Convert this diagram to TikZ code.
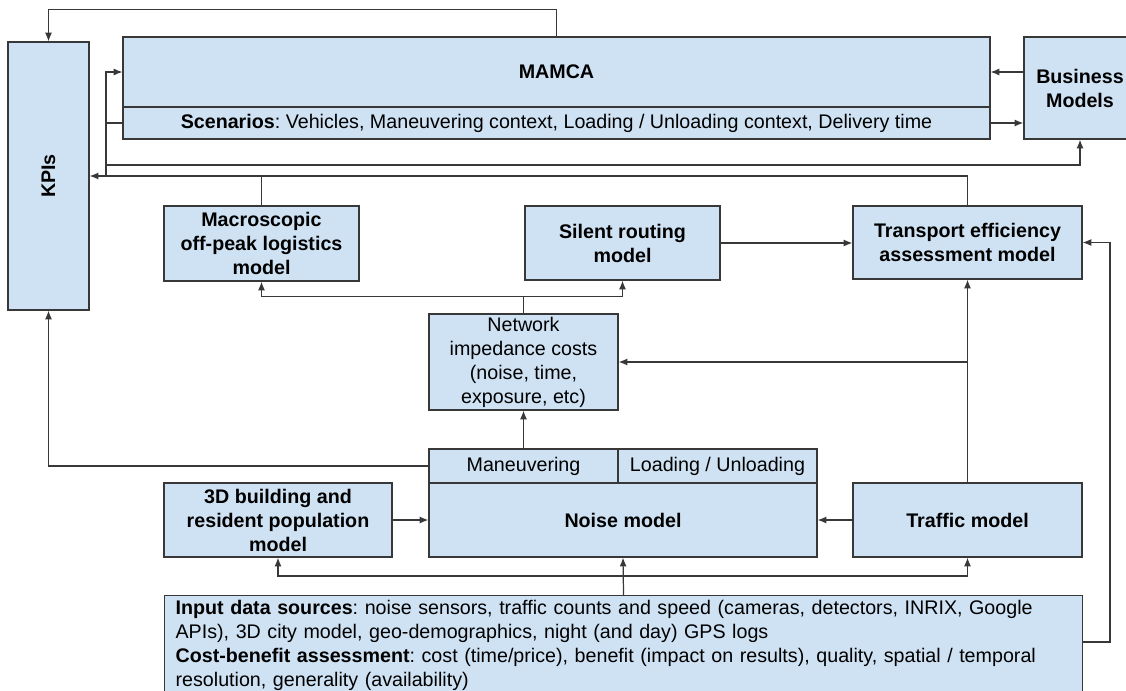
\documentclass[tikz,border=0pt]{standalone}
\usepackage{fontspec}
\setmainfont{Liberation Sans}
\usetikzlibrary{arrows.meta}
\definecolor{boxblue}{HTML}{CFE2F3}
\definecolor{edgegray}{HTML}{383838}
\newcommand{\fsz}{\fontsize{11.2}{13.66}\selectfont}
\frenchspacing
\begin{document}
\begin{tikzpicture}[x=0.02cm, y=-0.02cm, font=\fsz, line width=0.7pt,
      >={Latex[length=5pt,width=4pt]},
      blk/.style={draw=edgegray, fill=boxblue, inner sep=0pt, align=center, font=\fsz},
      hd/.style={blk, font=\fsz\bfseries},
      link/.style={draw=edgegray, ->}]
    % coordinates are pixels of the 1126 x 690 sketch, y grows downwards
    \clip (0,0) rectangle (1126,690);
    \node[blk, minimum width=1.62cm, minimum height=5.36cm] (kpi) at (48.5,176) {\rotatebox{90}{\bfseries KPIs}};
    \node[hd, minimum width=17.34cm, minimum height=1.40cm] (mamca) at (556.5,72) {MAMCA};
    \node[blk, minimum width=17.34cm, minimum height=0.64cm] (scen) at (556.5,123) {\textbf{Scenarios}: Vehicles, Maneuvering context, Loading / Unloading context, Delivery time};
    \node[hd, minimum width=2.24cm, minimum height=2.04cm] (biz) at (1080,88) {Business\\Models};
    \node[hd, minimum width=3.90cm, minimum height=1.50cm] (macro) at (261.5,243.5) {Macroscopic\\off-peak logistics\\model};
    \node[hd, minimum width=3.90cm, minimum height=1.48cm] (silent) at (622.5,243) {Silent routing\\model};
    \node[hd, minimum width=4.58cm, minimum height=1.46cm] (trans) at (967.5,242.5) {Transport efficiency\\assessment model};
    \node[blk, minimum width=3.78cm, minimum height=1.92cm] (net) at (523.5,362) {Network\\impedance costs\\(noise, time,\\exposure, etc)};
    \node[blk, minimum width=3.78cm, minimum height=0.68cm] (man) at (523.5,466) {Maneuvering};
    \node[blk, minimum width=3.98cm, minimum height=0.68cm] (load) at (717.5,466) {Loading / Unloading};
    \node[hd, minimum width=7.76cm, minimum height=1.48cm] (noise) at (623,520) {Noise model};
    \node[hd, minimum width=4.56cm, minimum height=1.48cm] (bld) at (278,520) {3D building and\\resident population\\model};
    \node[hd, minimum width=4.58cm, minimum height=1.48cm] (traffic) at (967.5,520) {Traffic model};
    \node[blk, anchor=north west, align=left, text width=17.92cm, inner xsep=0.22cm, inner ysep=0.1cm] (input) at (164,595)
      {\textbf{Input data sources}: noise sensors, traffic counts and speed (cameras, detectors, INRIX, Google\\
       APIs), 3D city model, geo-demographics, night (and day) GPS logs\\
       \textbf{Cost-benefit assessment}: cost (time/price), benefit (impact on results), quality, spatial / temporal\\
       resolution, generality (availability)};
    % feedback bus on the left
    \coordinate (bus) at (106,176);
    \coordinate (bizbus) at (106,165);
    \draw[link] (mamca.north) -- ++(0,-27) -| (kpi.north);
    \draw[link] (trans.north) |- (kpi.east);
    \draw[edgegray] (macro.north) -- (macro.north |- kpi.east);
    \draw[link] (bus) |- (mamca.west);
    \draw[edgegray] (scen.west) -- (scen.west -| bus);
    \draw[link] (bizbus) -| (biz.south);
    \draw[link] (scen.east) -- (scen.east -| biz.west);
    \draw[link] (mamca.east -| biz.west) -- (mamca.east);
    % middle row
    \draw[link] (silent.east) -- (silent.east -| trans.west);
    \draw[link] (net.north) -- ++(0,-17) -| (macro.south);
    \draw[link] (net.north) -- ++(0,-17) -| (silent.south);
    \draw[link] (traffic.north) -- (trans.south);
    \draw[link] (traffic.north |- net.east) -- (net.east);
    \draw[link] (man.north) -- (net.south);
    \draw[link] (man.west) -| (kpi.south);
    % bottom row
    \draw[link] (bld.east) -- (noise.west);
    \draw[link] (traffic.west) -- (noise.east);
    \draw[link] (input.north) -- (noise.south);
    \draw[link] (input.north) -- ++(0,-19) -| (bld.south);
    \draw[link] (input.north) -- ++(0,-19) -| (traffic.south);
    \draw[link] (input.north east) ++(0,47) -- ++(27,0) |- (trans.east);
\end{tikzpicture}
\end{document}
